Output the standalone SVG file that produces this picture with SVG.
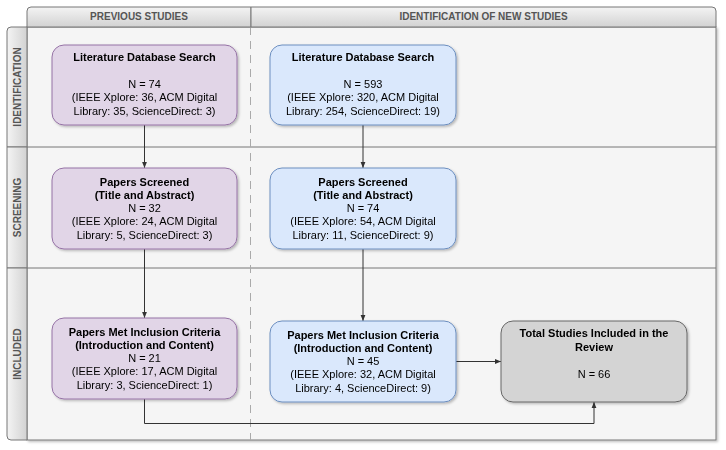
<svg xmlns="http://www.w3.org/2000/svg" width="726" height="450" viewBox="0 0 726 450">
<defs>
<linearGradient id="hdr" x1="0" y1="0" x2="0" y2="1"><stop offset="0" stop-color="#f4f4f4"/><stop offset="1" stop-color="#d2d2d2"/></linearGradient>
<linearGradient id="lane" x1="0" y1="0" x2="1" y2="0"><stop offset="0" stop-color="#f4f4f4"/><stop offset="1" stop-color="#d2d2d2"/></linearGradient>
<filter id="sh" x="-10%" y="-10%" width="130%" height="130%"><feDropShadow dx="1.5" dy="1.5" stdDeviation="1.2" flood-color="#000" flood-opacity="0.25"/></filter>
<marker id="ar" viewBox="0 0 10 10" refX="10" refY="5" markerWidth="6" markerHeight="6" orient="auto" markerUnits="userSpaceOnUse"><path d="M0,1 L10,5 L0,9 Z" fill="#333"/></marker>
<style>
.hd{fill:url(#hdr);stroke:#777;stroke-width:1}
.ln{fill:url(#lane);stroke:#777;stroke-width:1}
.ht{font-family:"Liberation Sans",Arial,sans-serif;font-size:10px;font-weight:bold;fill:#555;text-anchor:middle}
.pu{fill:#e1d5e7;stroke:#9673a6;stroke-width:1}
.bl{fill:#dae8fc;stroke:#6c8ebf;stroke-width:1}
.gr{fill:#d4d4d4;stroke:#666;stroke-width:1}
.t{font-family:"Liberation Sans",Arial,sans-serif;font-size:11px;fill:#000;text-anchor:middle}
.b{font-weight:bold}
.c{fill:none;stroke:#333;stroke-width:1}
</style>
</defs>
<g id="pool">
<rect x="27" y="27" width="689" height="413" fill="#f5f5f5" stroke="#777" stroke-width="1" filter="url(#sh)"/>
<line x1="27" y1="147" x2="716" y2="147" stroke="#777"/>
<line x1="27" y1="268" x2="716" y2="268" stroke="#777"/>
<line x1="250.5" y1="27" x2="250.5" y2="440" stroke="#aaa" stroke-dasharray="8 6"/>
</g>
<g id="header-previous">
<path class="hd" d="M27,27 V11 Q27,7 31,7 H251 V27 Z"/>
<text class="ht" x="139" y="20">PREVIOUS STUDIES</text>
</g>
<g id="header-new">
<path class="hd" d="M251,27 V7 H712 Q716,7 716,11 V27 Z"/>
<text class="ht" x="483.5" y="20">IDENTIFICATION OF NEW STUDIES</text>
</g>
<g id="lane-identification">
<path class="ln" d="M27,27 H11 Q7,27 7,31 V147 H27 Z"/>
<text class="ht" transform="translate(20.5,87) rotate(-90)">IDENTIFICATION</text>
</g>
<g id="lane-screening">
<path class="ln" d="M27,147 H7 V268 H27 Z"/>
<text class="ht" transform="translate(20.5,207.5) rotate(-90)">SCREENING</text>
</g>
<g id="lane-included">
<path class="ln" d="M27,268 H7 V436 Q7,440 11,440 H27 Z"/>
<text class="ht" transform="translate(20.5,354) rotate(-90)">INCLUDED</text>
</g>
<g id="connectors">
<line class="c" x1="144.5" y1="125" x2="144.5" y2="168" marker-end="url(#ar)"/>
<line class="c" x1="144.5" y1="249" x2="144.5" y2="318" marker-end="url(#ar)"/>
<line class="c" x1="363" y1="125" x2="363" y2="168" marker-end="url(#ar)"/>
<line class="c" x1="363" y1="249" x2="363" y2="321" marker-end="url(#ar)"/>
<line class="c" x1="456" y1="361.5" x2="501" y2="361.5" marker-end="url(#ar)"/>
<path class="c" d="M144.5,399 V423.5 H594 V402" marker-end="url(#ar)"/>
</g>
<g id="prev-search" filter="url(#sh)">
<rect class="pu" x="52" y="45" width="185" height="80" rx="12"/>
<text class="t b" x="144.5" y="61">Literature Database Search</text>
<text class="t" x="144.5" y="87.5">N = 74</text>
<text class="t" x="144.5" y="101">(IEEE Xplore: 36, ACM Digital</text>
<text class="t" x="144.5" y="114.5">Library: 35, ScienceDirect: 3)</text>
</g>
<g id="new-search" filter="url(#sh)">
<rect class="bl" x="270" y="45" width="186" height="80" rx="12"/>
<text class="t b" x="363" y="61">Literature Database Search</text>
<text class="t" x="363" y="87.5">N = 593</text>
<text class="t" x="363" y="101">(IEEE Xplore: 320, ACM Digital</text>
<text class="t" x="363" y="114.5">Library: 254, ScienceDirect: 19)</text>
</g>
<g id="prev-screened" filter="url(#sh)">
<rect class="pu" x="52" y="168" width="185" height="81" rx="12"/>
<text class="t b" x="144.5" y="185.5">Papers Screened</text>
<text class="t b" x="144.5" y="198.8">(Title and Abstract)</text>
<text class="t" x="144.5" y="212.1">N = 32</text>
<text class="t" x="144.5" y="225.4">(IEEE Xplore: 24, ACM Digital</text>
<text class="t" x="144.5" y="238.7">Library: 5, ScienceDirect: 3)</text>
</g>
<g id="new-screened" filter="url(#sh)">
<rect class="bl" x="270" y="168" width="186" height="81" rx="12"/>
<text class="t b" x="363" y="185.5">Papers Screened</text>
<text class="t b" x="363" y="198.8">(Title and Abstract)</text>
<text class="t" x="363" y="212.1">N = 74</text>
<text class="t" x="363" y="225.4">(IEEE Xplore: 54, ACM Digital</text>
<text class="t" x="363" y="238.7">Library: 11, ScienceDirect: 9)</text>
</g>
<g id="prev-included" filter="url(#sh)">
<rect class="pu" x="52" y="318" width="185" height="81" rx="12"/>
<text class="t b" x="144.5" y="335.5">Papers Met Inclusion Criteria</text>
<text class="t b" x="144.5" y="348.8">(Introduction and Content)</text>
<text class="t" x="144.5" y="362.1">N = 21</text>
<text class="t" x="144.5" y="375.4">(IEEE Xplore: 17, ACM Digital</text>
<text class="t" x="144.5" y="388.7">Library: 3, ScienceDirect: 1)</text>
</g>
<g id="new-included" filter="url(#sh)">
<rect class="bl" x="270" y="321" width="186" height="81" rx="12"/>
<text class="t b" x="363" y="338.5">Papers Met Inclusion Criteria</text>
<text class="t b" x="363" y="351.8">(Introduction and Content)</text>
<text class="t" x="363" y="365.1">N = 45</text>
<text class="t" x="363" y="378.4">(IEEE Xplore: 32, ACM Digital</text>
<text class="t" x="363" y="391.7">Library: 4, ScienceDirect: 9)</text>
</g>
<g id="total" filter="url(#sh)">
<rect class="gr" x="501" y="321" width="186" height="81" rx="12"/>
<text class="t b" x="594" y="337.3">Total Studies Included in the</text>
<text class="t b" x="594" y="350.6">Review</text>
<text class="t" x="594" y="377.5">N = 66</text>
</g>
</svg>
